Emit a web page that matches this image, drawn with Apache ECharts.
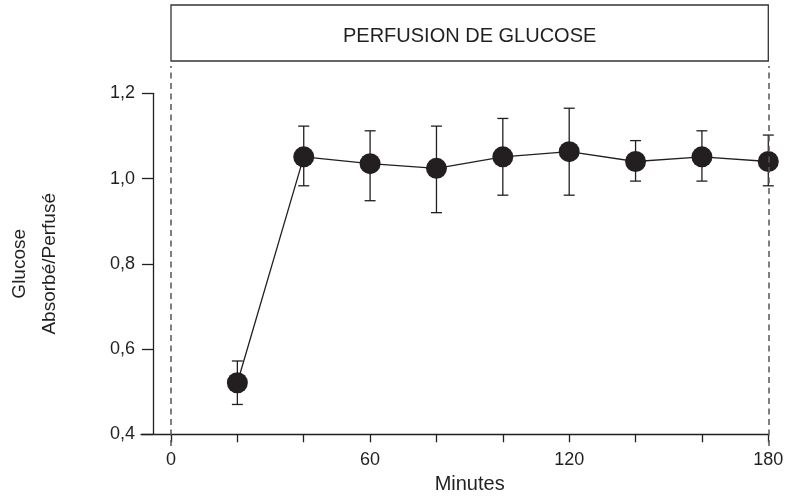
<!DOCTYPE html>
<html>
<head>
<meta charset="utf-8">
<script src="https://cdn.jsdelivr.net/npm/echarts@6/dist/echarts.min.js"></script>
<style>
html,body{margin:0;padding:0;background:#fff;}
#chart{width:788px;height:496px;}
</style>
</head>
<body>
<div id="chart"></div>
<script>
// ---- data ----
const minutes = [20, 40, 60, 80, 100, 120, 140, 160, 180];
const ratio   = [0.521, 1.051, 1.035, 1.024, 1.051, 1.063, 1.040, 1.051, 1.040];
const errLow  = [0.470, 0.983, 0.948, 0.920, 0.961, 0.961, 0.994, 0.994, 0.983];
const errHigh = [0.572, 1.123, 1.112, 1.123, 1.141, 1.165, 1.089, 1.112, 1.102];
const xLabelTicks = [0, 60, 120, 180];
const infusionBounds = [0, 180];
const titleText = 'PERFUSION DE GLUCOSE';
const xName = 'Minutes';
const yName = 'Glucose\nAbsorbé/Perfusé';

// ---- layout ----
const INK = '#231f20';
const FONT = 'Liberation Sans, Arial, sans-serif';
const L = 171, R = 19.7, T = 93.3, B = 61.7;

const chart = echarts.init(document.getElementById('chart'), null, {renderer: 'canvas'});

const pts = minutes.map((m, i) => [m, ratio[i]]);
const errs = minutes.map((m, i) => [m, errLow[i], errHigh[i]]);

const option = {
  backgroundColor: '#fff',
  animation: false,
  title: {
    text: titleText,
    left: (L + (788 - R)) / 2,
    textAlign: 'center',
    top: 26,
    padding: 0,
    textStyle: {fontFamily: FONT, fontSize: 20, fontWeight: 'normal', color: INK}
  },
  grid: [
    {left: L, right: R, top: T, bottom: B, outerBoundsMode: 'none'},
    {left: 141, right: R, top: T, bottom: B, outerBoundsMode: 'none'},
    {left: L, right: R, top: 66, bottom: 50, outerBoundsMode: 'none'},
    {left: L, right: R, top: 5, height: 56, show: true, borderColor: '#333', borderWidth: 1.3, backgroundColor: 'transparent', outerBoundsMode: 'none'}
  ],
  xAxis: [
    {
      gridIndex: 0, type: 'value', min: 0, max: 180, interval: 20,
      name: xName, nameLocation: 'middle', nameGap: 37,
      nameTextStyle: {fontFamily: FONT, fontSize: 20, color: INK},
      axisLine: {show: false},
      axisTick: {show: true, length: 8, lineStyle: {color: INK, width: 1.3}},
      axisLabel: {
        margin: 17, fontFamily: FONT, fontSize: 18, color: INK,
        alignMinLabel: 'center', alignMaxLabel: 'center', hideOverlap: false,
        formatter: v => xLabelTicks.indexOf(v) >= 0 ? String(v) : ''
      },
      splitLine: {show: false}
    },
    {
      gridIndex: 1, type: 'value', min: -9, max: 180,
      axisLine: {show: true, onZero: false, lineStyle: {color: INK, width: 1.3}},
      axisTick: {show: false}, axisLabel: {show: false}, splitLine: {show: false}
    },
    {gridIndex: 2, type: 'value', min: 0, max: 180, show: false},
    {gridIndex: 3, type: 'value', min: 0, max: 1, show: false}
  ],
  yAxis: [
    {
      gridIndex: 0, type: 'value', min: 0.4, max: 1.2, interval: 0.2,
      offset: L - 153,
      name: yName, nameLocation: 'middle', nameGap: 88, nameRotate: 90,
      nameTextStyle: {fontFamily: FONT, fontSize: 19, color: INK, lineHeight: 30},
      axisLine: {show: true, onZero: false, lineStyle: {color: INK, width: 1.3}},
      axisTick: {show: true, length: 11, lineStyle: {color: INK, width: 1.3}},
      axisLabel: {
        margin: 18, fontFamily: FONT, fontSize: 18, color: INK,
        formatter: v => v.toFixed(1).replace('.', ',')
      },
      splitLine: {show: false}
    },
    {gridIndex: 1, type: 'value', min: 0.4, max: 1.2, show: false},
    {gridIndex: 2, type: 'value', min: 0, max: 1, show: false},
    {gridIndex: 3, type: 'value', min: 0, max: 1, show: false}
  ],
  series: [
    {
      type: 'line', xAxisIndex: 2, yAxisIndex: 2,
      data: [], silent: true,
      markLine: {
        silent: true, symbol: 'none', label: {show: false},
        lineStyle: {type: [6, 4.5], color: '#555', width: 1.5},
        data: infusionBounds.map(b => ({xAxis: b}))
      }
    },
    {
      type: 'custom', xAxisIndex: 0, yAxisIndex: 0, z: 2,
      data: errs,
      renderItem: function (params, api) {
        const x = api.value(0);
        const lo = api.coord([x, api.value(1)]);
        const hi = api.coord([x, api.value(2)]);
        const w = 5.5;
        const st = {stroke: INK, lineWidth: 1.3};
        return {
          type: 'group',
          children: [
            {type: 'line', shape: {x1: lo[0], y1: lo[1], x2: hi[0], y2: hi[1]}, style: st},
            {type: 'line', shape: {x1: hi[0] - w, y1: hi[1], x2: hi[0] + w, y2: hi[1]}, style: st},
            {type: 'line', shape: {x1: lo[0] - w, y1: lo[1], x2: lo[0] + w, y2: lo[1]}, style: st}
          ]
        };
      }
    },
    {
      type: 'line', xAxisIndex: 0, yAxisIndex: 0, z: 3,
      data: pts,
      symbol: 'circle', symbolSize: 21,
      itemStyle: {color: INK},
      lineStyle: {color: INK, width: 1.3}
    }
  ]
};
chart.setOption(option);
</script>
</body>
</html>
